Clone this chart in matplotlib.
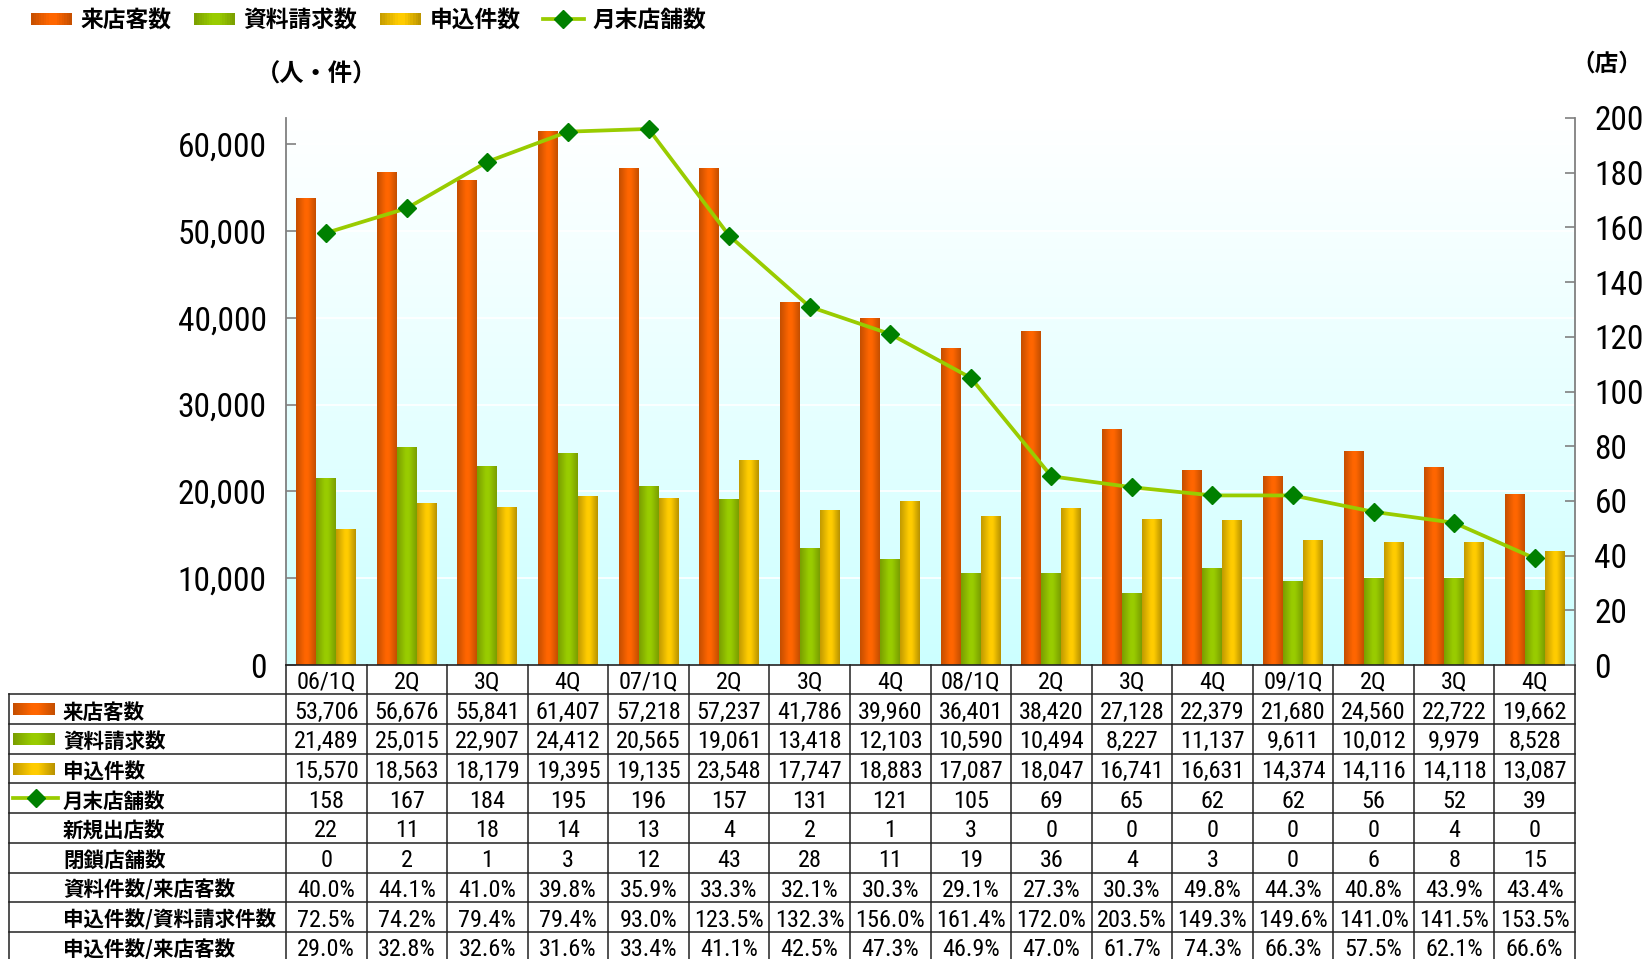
import numpy as np
import matplotlib
matplotlib.use("Agg")
import matplotlib.pyplot as plt
from matplotlib import font_manager
from matplotlib.colors import LinearSegmentedColormap
from matplotlib.patches import Rectangle
from matplotlib.lines import Line2D
from matplotlib.legend_handler import HandlerBase
from matplotlib.ticker import FuncFormatter

# ---- data ----
categories = ["06/1Q", "2Q", "3Q", "4Q", "07/1Q", "2Q", "3Q", "4Q",
              "08/1Q", "2Q", "3Q", "4Q", "09/1Q", "2Q", "3Q", "4Q"]
visitors = [53706, 56676, 55841, 61407, 57218, 57237, 41786, 39960,
            36401, 38420, 27128, 22379, 21680, 24560, 22722, 19662]
requests = [21489, 25015, 22907, 24412, 20565, 19061, 13418, 12103,
            10590, 10494, 8227, 11137, 9611, 10012, 9979, 8528]
applications = [15570, 18563, 18179, 19395, 19135, 23548, 17747, 18883,
                17087, 18047, 16741, 16631, 14374, 14116, 14118, 13087]
stores = [158, 167, 184, 195, 196, 157, 131, 121, 105, 69, 65, 62, 62, 56, 52, 39]
new_stores = [22, 11, 18, 14, 13, 4, 2, 1, 3, 0, 0, 0, 0, 0, 4, 0]
closed_stores = [0, 2, 1, 3, 12, 43, 28, 11, 19, 36, 4, 3, 0, 6, 8, 15]
req_per_visit = [40.0, 44.1, 41.0, 39.8, 35.9, 33.3, 32.1, 30.3,
                 29.1, 27.3, 30.3, 49.8, 44.3, 40.8, 43.9, 43.4]
app_per_req = [72.5, 74.2, 79.4, 79.4, 93.0, 123.5, 132.3, 156.0,
               161.4, 172.0, 203.5, 149.3, 149.6, 141.0, 141.5, 153.5]
app_per_visit = [29.0, 32.8, 32.6, 31.6, 33.4, 41.1, 42.5, 47.3,
                 46.9, 47.0, 61.7, 74.3, 66.3, 57.5, 62.1, 66.6]

row_names = ["来店客数", "資料請求数", "申込件数", "月末店舗数", "新規出店数", "閉鎖店舗数",
             "資料件数/来店客数", "申込件数/資料請求件数", "申込件数/来店客数"]


def pick_font(names):
    for n in names:
        try:
            font_manager.findfont(font_manager.FontProperties(family=n), fallback_to_default=False)
            return n
        except ValueError:
            pass
    return "DejaVu Sans"


NUM = pick_font(["Liberation Sans Narrow", "DejaVu Sans Condensed", "Roboto Condensed"])
JP = "Noto Sans CJK JP"
plt.rcParams["font.family"] = [NUM, JP, "DejaVu Sans"]

c_orange = LinearSegmentedColormap.from_list("o", [(0, "#C44E00"), (0.45, "#FF6600"), (0.6, "#FF6600"), (1, "#C44E00")])
c_green = LinearSegmentedColormap.from_list("g", [(0, "#7A9E00"), (0.45, "#99CC00"), (0.6, "#99CC00"), (1, "#7A9E00")])
c_yellow = LinearSegmentedColormap.from_list("y", [(0, "#C29A00"), (0.45, "#FFCC00"), (0.6, "#FFCC00"), (1, "#B89200")])
c_bg = LinearSegmentedColormap.from_list("bg", ["#FFFFFF", "#E8FFFF", "#CCFFFF"])
LINE_C = "#99CC00"
MARK_C = "#008000"

W, H = 1650, 959
fig = plt.figure(figsize=(W / 100, H / 100), dpi=100)

X0, X1, YT, YB = 286, 1575, 118, 665
ax = fig.add_axes([X0 / W, 1 - YB / H, (X1 - X0) / W, (YB - YT) / H])
ax2 = ax.twinx()

x = np.arange(len(categories))
bw = 0.248
grad = np.linspace(0, 1, 64).reshape(1, -1)


def grad_bars(bars, cmap):
    for b in bars:
        x0, y0 = b.get_x(), b.get_y()
        ax.imshow(grad, cmap=cmap, extent=(x0, x0 + b.get_width(), y0, y0 + b.get_height()),
                  aspect="auto", zorder=2, interpolation="bilinear")


ax.imshow(np.linspace(0, 1, 256).reshape(-1, 1), cmap=c_bg, extent=(0, 1, 0, 1),
          transform=ax.transAxes, aspect="auto", zorder=0)
b1 = ax.bar(x - bw, visitors, bw, color="none")
b2 = ax.bar(x, requests, bw, color="none")
b3 = ax.bar(x + bw, applications, bw, color="none")
grad_bars(b1, c_orange)
grad_bars(b2, c_green)
grad_bars(b3, c_yellow)

ax.set_xlim(-0.5, len(categories) - 0.5)
ax.set_ylim(0, 63000)
ax.set_yticks(np.arange(0, 60001, 10000))
ax.yaxis.set_major_formatter(FuncFormatter(lambda v, p: f"{int(v):,}"))
ax.set_xticks([])
ax.set_axisbelow(True)
ax.yaxis.grid(True, color="white", lw=1.2)
ax.tick_params(axis="y", direction="in", length=7, width=1.2, color="#808080", labelsize=24, pad=14)
for s in ["top", "right"]:
    ax.spines[s].set_visible(False)
ax.spines["left"].set_color("#808080")
ax.spines["left"].set_linewidth(1.3)
ax.spines["bottom"].set_color("#222222")
ax.spines["bottom"].set_linewidth(1.2)

ax2.plot(x, stores, color=LINE_C, lw=2.7, marker="D", ms=9.5, mfc=MARK_C, mec=MARK_C, zorder=5)
ax2.set_ylim(0, 200)
ax2.set_yticks(np.arange(0, 201, 20))
ax2.tick_params(axis="y", direction="in", length=7, width=1.2, color="#808080", labelsize=24, pad=14)
for s in ["top", "left", "bottom"]:
    ax2.spines[s].set_visible(False)
ax2.spines["right"].set_color("#808080")
ax2.spines["right"].set_linewidth(1.3)

# ---- table below the plot ----
tax = fig.add_axes([0, 0, 1, 1], zorder=3)
tax.axis("off")
tax.patch.set_alpha(0)

ncol = len(categories)
cw = (X1 - X0) / ncol
hh = 29.3   # header row
rh = 29.7   # data rows
LX = 8.5
lc, lw = "#222222", 1.1


def row_top(k):
    return YB + hh + k * rh


for i in range(ncol + 1):
    tax.plot([X0 + i * cw] * 2, [YB, H + 2], color=lc, lw=lw)
tax.plot([LX, LX], [row_top(0), H + 2], color=lc, lw=lw)
for k in range(9):
    tax.plot([LX, X1], [row_top(k)] * 2, color=lc, lw=lw)

rows = [
    [f"{v:,}" for v in visitors],
    [f"{v:,}" for v in requests],
    [f"{v:,}" for v in applications],
    [str(v) for v in stores],
    [str(v) for v in new_stores],
    [str(v) for v in closed_stores],
    [f"{v:.1f}%" for v in req_per_visit],
    [f"{v:.1f}%" for v in app_per_req],
    [f"{v:.1f}%" for v in app_per_visit],
]

for i, c in enumerate(categories):
    tax.text(X0 + (i + 0.5) * cw, YB + hh / 2 + 2.5, c, ha="center", va="center", fontsize=17.5)
for r, vals in enumerate(rows):
    yc = row_top(r) + rh / 2 + 3
    for i, v in enumerate(vals):
        tax.text(X0 + (i + 0.5) * cw, yc, v, ha="center", va="center", fontsize=17.5)
    tax.text(63, yc, row_names[r], ha="left", va="center", fontsize=14.8, fontweight="bold", family=[JP])

for r, cm in enumerate([c_orange, c_green, c_yellow]):
    yc = row_top(r) + rh / 2
    tax.imshow(grad, cmap=cm, extent=(13, 55, yc + 6, yc - 6), aspect="auto", interpolation="bilinear")
yc = row_top(3) + rh / 2
tax.plot([13, 58], [yc, yc], color=LINE_C, lw=2.7)
tax.plot([35.5], [yc], marker="D", ms=9.5, color=MARK_C)
tax.set_xlim(0, W)
tax.set_ylim(H, 0)


# ---- legend ----
class GradHandler(HandlerBase):
    def __init__(self, cmap):
        super().__init__()
        self.cmap = cmap

    def create_artists(self, legend, orig_handle, xdescent, ydescent, width, height, fontsize, trans):
        n = 16
        h = height * 0.8
        y0 = -ydescent + (height - h) / 2
        return [Rectangle((-xdescent + width * i / n, y0), width / n * 1.05, h,
                          facecolor=self.cmap((i + 0.5) / n), edgecolor="none", transform=trans)
                for i in range(n)]


h1, h2, h3 = Rectangle((0, 0), 1, 1), Rectangle((0, 0), 1, 1), Rectangle((0, 0), 1, 1)
h4 = Line2D([], [], color=LINE_C, lw=2.7, marker="D", ms=9.5, mfc=MARK_C, mec=MARK_C)
fig.legend([h1, h2, h3, h4], ["来店客数", "資料請求数", "申込件数", "月末店舗数"],
           handler_map={h1: GradHandler(c_orange), h2: GradHandler(c_green), h3: GradHandler(c_yellow)},
           loc="upper left", bbox_to_anchor=(31 / W, 1 - 9 / H), ncol=4, frameon=False,
           prop={"family": JP, "weight": "bold", "size": 16.4},
           handlelength=1.8, handletextpad=0.38, columnspacing=0.98, borderpad=0, borderaxespad=0)

fig.text(316 / W, 1 - 75 / H, "（人・件）", ha="center", va="center", fontsize=17.5, fontweight="bold", family=[JP])
fig.text(1607 / W, 1 - 64 / H, "（店）", ha="center", va="center", fontsize=17, fontweight="bold", family=[JP])

fig.savefig("out.png", dpi=100)
